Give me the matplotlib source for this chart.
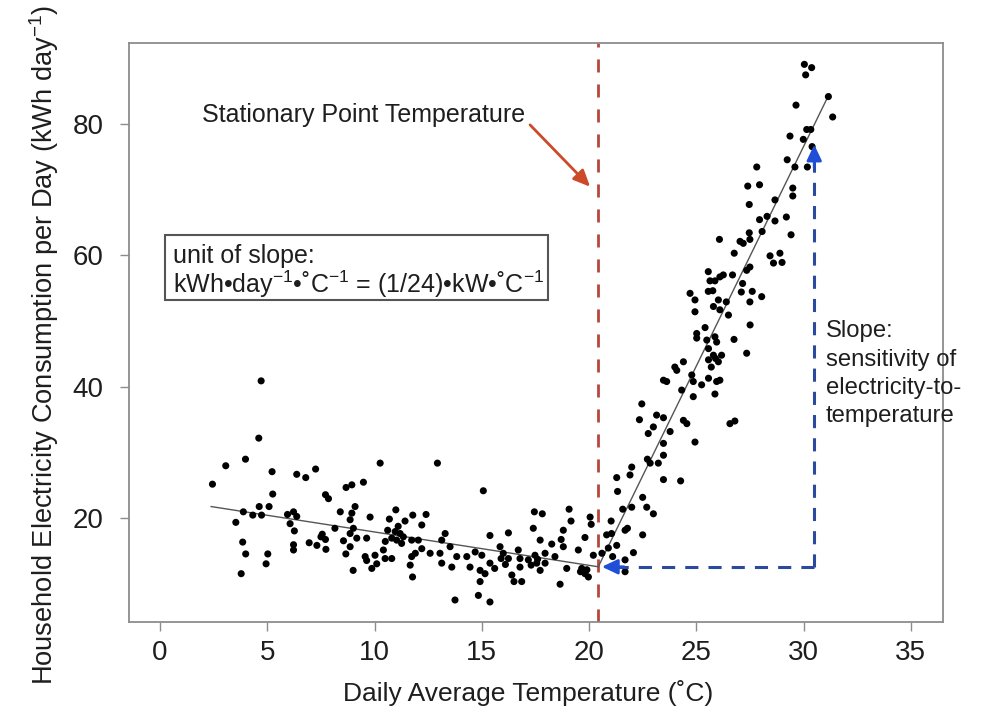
import matplotlib
matplotlib.use("Agg")
import matplotlib.pyplot as plt
from matplotlib.patches import Rectangle

plt.rcParams['font.family'] = ['Liberation Sans', 'DejaVu Sans']
plt.rcParams['mathtext.fontset'] = 'custom'
plt.rcParams['mathtext.rm'] = 'Liberation Sans'
plt.rcParams['mathtext.default'] = 'regular'

# ---- data ----
cool_temp = [2.44, 3.06, 3.53, 3.88, 3.98, 3.85, 3.99, 3.78, 4.32, 4.60, 4.71, 4.62, 4.73, 5.08,
             5.22, 5.25, 5.02, 4.94, 5.94, 6.22, 6.06, 6.26, 6.37, 6.37, 6.79, 7.25, 6.22, 6.22,
             6.95, 7.31, 7.56, 7.73, 7.71, 7.71, 7.85, 8.15, 8.40, 8.67, 8.55, 8.66, 8.86, 7.50,
             10.26, 12.93, 8.94, 9.48, 15.07, 9.09, 8.94, 9.79, 10.99, 10.69, 11.42, 11.78, 12.40,
             12.20, 9.01, 9.17, 9.63, 8.86, 10.61, 10.96, 11.19, 11.03, 11.26, 11.34, 11.73, 12.04,
             12.20, 11.90, 11.73, 12.59, 11.66, 11.77, 13.29, 13.13, 13.05, 13.13, 13.52, 13.83,
             13.60, 14.30, 14.45, 14.69, 15.00, 14.92, 14.92, 14.84, 13.75, 9.56, 9.63, 10.02,
             10.10, 9.87, 10.41, 10.49, 10.80, 9.00, 8.86, 10.80, 11.10, 10.50,
             17.45, 17.82, 19.07, 19.16, 20.05, 20.10, 17.40, 18.80, 16.24, 15.38, 17.72, 18.26,
             18.70, 18.80, 19.81, 19.50, 15.85, 16.00, 16.24, 16.70, 16.78, 16.78, 17.48, 17.56,
             17.95, 17.72, 17.95, 17.17, 15.38, 15.60, 15.15, 16.40, 16.50, 16.86, 15.38, 18.65,
             18.96, 19.66, 19.81, 19.97, 20.20, 18.41,
             15.90, 16.10, 17.30, 17.60, 19.60, 19.90]
cool_kwh = [25.2, 28.0, 19.4, 21.0, 29.0, 16.4, 14.6, 11.6, 20.5, 32.2, 40.9, 21.8, 20.5, 21.8,
            27.1, 23.7, 14.6, 13.1, 20.6, 21.0, 19.2, 18.1, 20.3, 26.7, 26.2, 27.5, 16.0, 15.2,
            16.3, 15.9, 17.6, 15.3, 16.8, 23.6, 23.0, 18.5, 21.0, 24.7, 16.6, 14.6, 19.8, 17.2,
            28.4, 28.4, 25.1, 25.5, 24.2, 21.8, 20.8, 20.2, 21.3, 19.9, 19.6, 20.5, 20.6,
            19.0, 18.5, 17.0, 17.0, 17.7, 18.2, 18.0, 17.7, 16.7, 16.2, 17.2, 16.7, 16.7,
            15.4, 14.7, 14.2, 14.7, 12.9, 11.1, 17.7, 16.7, 14.7, 13.2, 15.7, 14.2,
            12.6, 14.2, 12.6, 14.9, 14.4, 12.1, 10.4, 8.3, 7.6, 14.2, 13.6, 14.4,
            13.1, 12.4, 15.2, 13.9, 13.9, 12.1, 15.7, 17.0, 18.8, 16.5,
            21.0, 20.7, 21.4, 19.6, 20.2, 19.1, 18.5, 18.2, 17.8, 17.4, 16.7, 16.1,
            16.8, 15.7, 17.1, 15.2, 15.7, 14.7, 13.9, 15.2, 13.9, 12.6, 14.4, 13.2,
            14.7, 12.1, 13.2, 13.7, 13.2, 12.4, 11.6, 11.4, 10.4, 10.4, 7.3, 10.0,
            12.4, 12.4, 11.6, 11.1, 14.4, 14.2,
            13.9, 13.0, 12.9, 13.8, 11.9, 12.2]

warm_temp = [20.60, 21.03, 20.82, 21.05, 21.29, 21.68, 21.79, 22.07, 21.68, 21.68, 22.50, 21.57,
             21.99, 22.50, 22.69, 23.00, 21.33, 21.29, 21.91, 21.99, 22.72, 22.85, 23.23, 23.47,
             23.47, 24.27, 23.47, 23.78, 22.76, 23.00, 24.94, 20.90, 21.10,
             26.77, 28.44, 28.90, 28.60, 29.00, 27.19, 25.56, 25.64, 25.87, 26.10, 26.26, 26.69,
             27.35, 27.50, 27.16, 27.10, 27.61, 28.05, 27.50, 24.71, 24.94, 25.56, 25.77, 26.03,
             26.40, 25.80, 26.10, 26.50, 24.94, 27.51, 25.41, 25.02, 25.02, 25.49, 25.87, 25.95,
             26.76, 25.57, 25.80, 26.18, 26.03, 25.57, 27.35, 24.40, 24.00, 24.09, 23.62, 23.47,
             24.79, 24.86, 25.25, 25.57, 25.95, 26.10, 24.32, 24.86, 25.87, 22.46, 22.35, 23.15,
             23.47, 24.40, 24.56, 26.57, 26.80, 25.70, 25.90,
             30.04, 30.38, 30.10, 31.16, 31.36, 29.65, 30.15, 30.34, 29.99, 29.37, 30.40, 29.24,
             29.60, 30.18, 27.82, 27.40, 27.95, 29.50, 29.50, 27.47, 28.67, 29.20, 27.95, 28.30,
             28.67, 26.08, 27.04, 27.47, 27.50, 28.07, 29.42]
warm_kwh = [14.7, 19.6, 17.5, 17.7, 15.9, 18.2, 18.5, 14.8, 13.7, 11.9, 17.5, 21.4,
            21.7, 23.2, 21.7, 20.7, 24.1, 26.2, 26.6, 27.8, 29.0, 28.4, 28.4, 29.6,
            25.9, 25.7, 31.4, 33.2, 32.9, 33.9, 31.6, 15.5, 14.2,
            60.3, 59.9, 60.3, 58.8, 58.9, 61.8, 57.5, 56.1, 56.1, 56.7, 57.0, 57.0,
            57.7, 58.2, 55.7, 54.4, 54.5, 53.7, 52.9, 54.2, 53.2, 54.5, 54.6, 53.2,
            52.9, 52.2, 51.7, 50.9, 51.4, 49.4, 49.0, 48.1, 47.4, 47.1, 47.6, 46.8,
            47.2, 45.8, 44.8, 44.8, 43.8, 44.1, 45.1, 43.8, 43.0, 42.5, 40.8, 41.0,
            41.8, 40.8, 40.3, 41.3, 40.8, 41.0, 39.5, 38.5, 38.9, 37.4, 35.0, 35.7,
            35.3, 34.9, 34.4, 34.4, 34.8, 43.0, 44.3,
            89.0, 88.5, 87.4, 84.1, 81.0, 82.8, 79.1, 79.1, 77.6, 78.1, 76.5, 74.5,
            73.4, 73.4, 73.4, 70.5, 70.7, 70.2, 69.0, 67.7, 68.4, 65.8, 65.4, 65.9,
            65.2, 62.4, 62.1, 63.4, 62.4, 63.6, 63.1]

fit_cool_temp = [2.38, 20.43]
fit_cool_kwh = [21.8, 12.65]
fit_warm_temp = [20.43, 31.2]
fit_warm_kwh = [12.65, 84.5]

stationary_temp = 20.43
slope_temp = 30.5
slope_base_kwh = 12.65
slope_top_kwh = 76.8

xticks = [0, 5, 10, 15, 20, 25, 30, 35]
yticks = [20, 40, 60, 80]

# ---- figure ----
fig = plt.figure(figsize=(9.91, 7.12), dpi=100)
ax = fig.add_axes([0.1302, 0.1268, 0.8217, 0.8124])
ax.set_xlim(-1.45, 36.52)
ax.set_ylim(4.3, 92.2)

frame_col = '#8c8c8c'
for s in ax.spines.values():
    s.set_color(frame_col)
    s.set_linewidth(1.3)

ax.set_xticks(xticks)
ax.set_yticks(yticks)
ax.tick_params(direction='out', length=6.5, width=1.0, color=frame_col,
               labelsize=20, labelcolor='#1e1e1e')
ax.tick_params(axis='x', pad=7)
ax.tick_params(axis='y', pad=12)

# fitted piecewise line
ax.plot(fit_cool_temp, fit_cool_kwh, color='#555555', lw=1.0, zorder=2)
ax.plot(fit_warm_temp, fit_warm_kwh, color='#555555', lw=1.0, zorder=2)

# points
ax.scatter(cool_temp + warm_temp, cool_kwh + warm_kwh, s=26, color='black',
           edgecolors='none', zorder=3)

# stationary point vertical dashed line
ax.axvline(stationary_temp, color='#b5473f', lw=2.0, ls=(0, (4.7, 4.3)), zorder=1)

# slope dashed guides
blue = '#2b4a9e'
ax.plot([slope_temp, stationary_temp + 0.9], [slope_base_kwh, slope_base_kwh],
        color=blue, lw=2.2, ls=(0, (4.3, 3.3)), zorder=4)
ax.plot([slope_temp, slope_temp], [slope_base_kwh, slope_top_kwh - 2.0],
        color=blue, lw=2.2, ls=(0, (4.3, 3.3)), zorder=4)
ax.annotate('', xy=(stationary_temp + 0.17, slope_base_kwh),
            xytext=(stationary_temp + 1.2, slope_base_kwh),
            arrowprops=dict(arrowstyle='-|>,head_length=0.95,head_width=0.45',
                            color='#1f4fd6', lw=2.0, shrinkA=0, shrinkB=0), zorder=5)
ax.annotate('', xy=(slope_temp, slope_top_kwh),
            xytext=(slope_temp, slope_top_kwh - 3.5),
            arrowprops=dict(arrowstyle='-|>,head_length=0.95,head_width=0.45',
                            color='#1f4fd6', lw=2.0, shrinkA=0, shrinkB=0), zorder=5)

# stationary point label and arrow
ax.text(1.94, 80.27, 'Stationary Point Temperature', fontsize=18, color='#1e1e1e',
        ha='left', va='baseline')
ax.annotate('', xy=(20.05, 70.4), xytext=(17.25, 79.8),
            arrowprops=dict(arrowstyle='-|>,head_length=1.0,head_width=0.45',
                            color='#cc4a2a', lw=2.0, shrinkA=0, shrinkB=0))

# unit box
ax.add_patch(Rectangle((0.23, 53.18), 17.86, 9.87, fill=False,
                       edgecolor='#555555', lw=1.5, zorder=5))
ax.text(0.59, 58.85, 'unit of slope:', fontsize=18, color='#1e1e1e',
        ha='left', va='baseline')
ax.text(0.59, 54.3,
        'kWh\u2022day$^{-1}$\u2022\u02daC$^{-1}$ = (1/24)\u2022kW\u2022\u02daC$^{-1}$',
        fontsize=18, color='#1e1e1e', ha='left', va='baseline')

# slope label
slope_lines = ['Slope:', 'sensitivity of', 'electricity-to-', 'temperature']
slope_baselines = [47.5, 43.2, 38.9, 34.6]
for txt, yb in zip(slope_lines, slope_baselines):
    ax.text(31.05, yb, txt, fontsize=17.2, color='#1e1e1e', ha='left', va='baseline')

ax.set_xlabel('Daily Average Temperature (\u02daC)', fontsize=19, color='#1e1e1e')
ax.set_ylabel('Household Electricity Consumption per Day (kWh day$^{-1}$)',
              fontsize=19.6, color='#1e1e1e')
ax.xaxis.set_label_coords(0.49, -0.101)
ax.yaxis.set_label_coords(-0.084, 0.478)

fig.savefig('out.png', dpi=100)
